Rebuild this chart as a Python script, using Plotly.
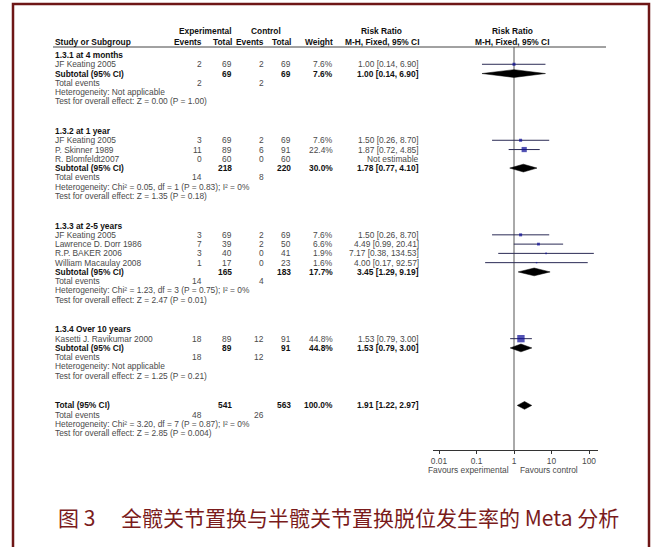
import plotly.graph_objects as go

W, H = 654, 547

# ---------------- data ----------------
group_labels = ["1.3.1 at 4 months", "1.3.2 at 1 year", "1.3.3 at 2-5 years", "1.3.4 Over 10 years"]

study_group = [0, 1, 1, 1, 2, 2, 2, 2, 3]
study_name = ["JF Keating 2005", "JF Keating 2005", "P. Skinner 1989", "R. Blomfeldt2007",
              "JF Keating 2005", "Lawrence D. Dorr 1986", "R.P. BAKER 2006",
              "William Macaulay 2008", "Kasetti J. Ravikumar 2000"]
exp_events = [2, 3, 11, 0, 3, 7, 3, 1, 18]
exp_total = [69, 69, 89, 60, 69, 39, 40, 17, 89]
ctl_events = [2, 2, 6, 0, 2, 2, 0, 0, 12]
ctl_total = [69, 69, 91, 60, 69, 50, 41, 23, 91]
weight = [7.6, 7.6, 22.4, None, 7.6, 6.6, 1.9, 1.6, 44.8]
rr = [1.00, 1.50, 1.87, None, 1.50, 4.49, 7.17, 4.00, 1.53]
rr_lo = [0.14, 0.26, 0.72, None, 0.26, 0.99, 0.38, 0.17, 0.79]
rr_hi = [6.90, 8.70, 4.85, None, 8.70, 20.41, 134.53, 92.57, 3.00]

sub_exp_total = [69, 218, 165, 89]
sub_ctl_total = [69, 220, 183, 91]
sub_weight = [7.6, 30.0, 17.7, 44.8]
sub_rr = [1.00, 1.78, 3.45, 1.53]
sub_lo = [0.14, 0.77, 1.29, 0.79]
sub_hi = [6.90, 4.10, 9.19, 3.00]
sub_exp_events = [2, 14, 14, 18]
sub_ctl_events = [2, 8, 4, 12]
sub_het = ["Not applicable",
           "Chi² = 0.05, df = 1 (P = 0.83); I² = 0%",
           "Chi² = 1.23, df = 3 (P = 0.75); I² = 0%",
           "Not applicable"]
sub_test = ["Z = 0.00 (P = 1.00)", "Z = 1.35 (P = 0.18)", "Z = 2.47 (P = 0.01)", "Z = 1.25 (P = 0.21)"]

total_exp_total, total_ctl_total = 541, 563
total_weight = 100.0
total_rr, total_lo, total_hi = 1.91, 1.22, 2.97
total_exp_events, total_ctl_events = 48, 26
total_het = "Chi² = 3.20, df = 7 (P = 0.87); I² = 0%"
total_test = "Z = 2.85 (P = 0.004)"

tick_vals = [0.01, 0.1, 1, 10, 100]
tick_text = ["0.01", "0.1", "1", "10", "100"]

caption = "图 3　 全髋关节置换与半髋关节置换脱位发生率的 Meta 分析"

# ---------------- layout constants ----------------
PITCH = 9.27          # px per row unit
TOP0 = 55             # pixel of first row
GAP = 3.2             # rows between groups
Y_TOP = -TOP0 / PITCH
Y_BOT = Y_TOP + H / PITCH

def py(p):  # pixel -> row units
    return Y_TOP + p / PITCH

X_NAME = 53
X_EE, X_ET, X_CE, X_CT, X_W, X_CI = 204, 234, 266, 293, 335, 421
GRAY = "#4a4a4a"
BLACK = "#111111"
FONT = "Liberation Sans, Arial, sans-serif"
FS = 8.4

ann = []

def txt(x, y, s, anchor="right", bold=False, color=None, size=FS):
    if s is None or s == "":
        return
    ann.append(dict(x=x, y=y, xref="x", yref="y", text=(f"<b>{s}</b>" if bold else s),
                    showarrow=False, xanchor=anchor, yanchor="middle",
                    font=dict(family=FONT, size=size, color=color or (BLACK if bold else GRAY))))

def fmt_ci(e, l, h):
    return f"{e:.2f} [{l:.2f}, {h:.2f}]"

# headers
yh1, yh2, yline = py(31), py(42), py(47)
txt(205, yh1, "Experimental", "center", True)
txt(266, yh1, "Control", "center", True)
txt(381, yh1, "Risk Ratio", "center", True)
txt(512, yh1, "Risk Ratio", "center", True)
txt(X_NAME, yh2, "Study or Subgroup", "left", True)
txt(X_EE, yh2, "Events", "right", True)
txt(X_ET, yh2, "Total", "right", True)
txt(X_CE, yh2, "Events", "right", True)
txt(X_CT, yh2, "Total", "right", True)
txt(X_W, yh2, "Weight", "right", True)
txt(X_CI, yh2, "M-H, Fixed, 95% CI", "right", True)
txt(512, yh2, "M-H, Fixed, 95% CI", "center", True)

# rows
y = 0.0
study_y = [None] * len(study_name)
diam = []  # (y, est, lo, hi)
for g, glab in enumerate(group_labels):
    txt(X_NAME, y, glab, "left", True)
    y += 1
    for i in range(len(study_name)):
        if study_group[i] != g:
            continue
        study_y[i] = y
        txt(X_NAME, y, study_name[i], "left")
        txt(X_EE, y, str(exp_events[i]))
        txt(X_ET, y, str(exp_total[i]))
        txt(X_CE, y, str(ctl_events[i]))
        txt(X_CT, y, str(ctl_total[i]))
        if rr[i] is None:
            txt(X_CI, y, "Not estimable")
        else:
            txt(X_W, y, f"{weight[i]:.1f}%")
            txt(X_CI, y, fmt_ci(rr[i], rr_lo[i], rr_hi[i]))
        y += 1
    txt(X_NAME, y, "Subtotal (95% CI)", "left", True)
    txt(X_ET, y, str(sub_exp_total[g]), bold=True)
    txt(X_CT, y, str(sub_ctl_total[g]), bold=True)
    txt(X_W, y, f"{sub_weight[g]:.1f}%", bold=True)
    txt(X_CI, y, fmt_ci(sub_rr[g], sub_lo[g], sub_hi[g]), bold=True)
    diam.append((y, sub_rr[g], sub_lo[g], sub_hi[g]))
    y += 1
    txt(X_NAME, y, "Total events", "left")
    txt(X_EE, y, str(sub_exp_events[g]))
    txt(X_CE, y, str(sub_ctl_events[g]))
    y += 1
    txt(X_NAME, y, "Heterogeneity: " + sub_het[g], "left")
    y += 1
    txt(X_NAME, y, "Test for overall effect: " + sub_test[g], "left")
    y += GAP

txt(X_NAME, y, "Total (95% CI)", "left", True)
txt(X_ET, y, str(total_exp_total), bold=True)
txt(X_CT, y, str(total_ctl_total), bold=True)
txt(X_W, y, f"{total_weight:.1f}%", bold=True)
txt(X_CI, y, fmt_ci(total_rr, total_lo, total_hi), bold=True)
diam.append((y, total_rr, total_lo, total_hi))
y += 1
txt(X_NAME, y, "Total events", "left")
txt(X_EE, y, str(total_exp_events))
txt(X_CE, y, str(total_ctl_events))
y += 1
txt(X_NAME, y, "Heterogeneity: " + total_het, "left")
y += 1
txt(X_NAME, y, "Test for overall effect: " + total_test, "left")

y_axis = py(450)
txt(511, py(470), "Favours experimental", "right")
txt(518, py(470), "Favours control", "left")

# caption
ann.append(dict(x=56, y=py(517), xref="x", yref="y", text=caption, showarrow=False,
                xanchor="left", yanchor="middle",
                font=dict(family="Noto Sans CJK SC, sans-serif", size=21, color="#7a1b1b")))

fig = go.Figure()

# reference line at RR = 1
fig.add_trace(go.Scatter(x=[1, 1], y=[yline, y_axis], xaxis="x2", yaxis="y", mode="lines",
                         line=dict(color="#555555", width=1), hoverinfo="skip", showlegend=False))

# CI lines
cx, cy = [], []
for i in range(len(study_name)):
    if rr[i] is None:
        continue
    cx += [rr_lo[i], rr_hi[i], None]
    cy += [study_y[i], study_y[i], None]
fig.add_trace(go.Scatter(x=cx, y=cy, xaxis="x2", yaxis="y", mode="lines",
                         line=dict(color="#2b2b55", width=1), hoverinfo="skip", showlegend=False))

# squares
sx = [rr[i] for i in range(len(rr)) if rr[i] is not None]
sy = [study_y[i] for i in range(len(rr)) if rr[i] is not None]
ss = [1.1 * weight[i] ** 0.5 for i in range(len(rr)) if rr[i] is not None]
fig.add_trace(go.Scatter(x=sx, y=sy, xaxis="x2", yaxis="y", mode="markers",
                         marker=dict(symbol="square", size=ss, color="#0a0a96", line=dict(width=0)),
                         hoverinfo="skip", showlegend=False))

# diamonds
DH = 0.42
for (yy, e, l, h) in diam:
    fig.add_trace(go.Scatter(x=[l, e, h, e, l], y=[yy, yy - DH, yy, yy + DH, yy],
                             xaxis="x2", yaxis="y", mode="lines", fill="toself",
                             fillcolor="black", line=dict(color="black", width=0.5),
                             hoverinfo="skip", showlegend=False))

shapes = [
    dict(type="line", xref="x", yref="y", x0=X_NAME, x1=606, y0=yline, y1=yline,
         line=dict(color="#444444", width=1)),
    dict(type="rect", xref="paper", yref="paper", x0=13 / W, x1=649 / W, y0=-0.02, y1=1 - 4 / H,
         line=dict(color="#6e1616", width=2.5)),
]

fig.update_layout(
    width=W, height=H,
    margin=dict(l=0, r=0, t=0, b=0, autoexpand=False),
    paper_bgcolor="white", plot_bgcolor="rgba(0,0,0,0)",
    xaxis=dict(domain=[0, 1], range=[0, W], visible=False, fixedrange=True),
    xaxis2=dict(domain=[433 / W, 598 / W], type="log", range=[-2.16, 2.24],
                anchor="free", position=1 - 450 / H, showline=True, linecolor="#333333",
                linewidth=1, ticks="outside", ticklen=3, tickcolor="#333333",
                tickvals=tick_vals, ticktext=tick_text, showgrid=False, zeroline=False,
                tickfont=dict(family=FONT, size=FS, color=GRAY)),
    yaxis=dict(domain=[0, 1], range=[Y_BOT, Y_TOP], visible=False),
    annotations=ann, shapes=shapes, showlegend=False,
)

fig.write_html("out.html", config={"displayModeBar": False},
               post_script="document.body.style.margin='0px';document.body.style.overflow='hidden';")
